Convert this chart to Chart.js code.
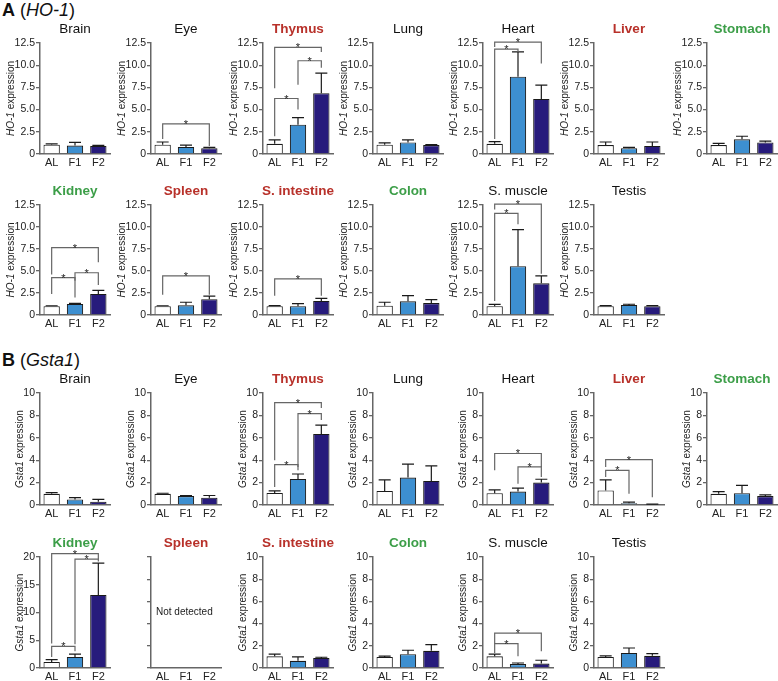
<!DOCTYPE html>
<html><head><meta charset="utf-8">
<script src="https://cdn.jsdelivr.net/npm/chart.js@4.4.1/dist/chart.umd.min.js"></script>
<style>
body{margin:0;background:#fff;width:778px;height:681px;position:relative;overflow:hidden;font-family:"Liberation Sans",Arial,sans-serif}
canvas{position:absolute}
.hdr{position:absolute;font-size:18px;color:#111;white-space:nowrap;line-height:20px}
</style></head><body>
<div class="hdr" style="left:2px;top:0px"><b>A</b> (<i>HO-1</i>)</div>
<div class="hdr" style="left:2px;top:350px"><b>B</b> (<i>Gsta1</i>)</div>
<script>
// ---------- DATA ----------
const groups = ['AL', 'F1', 'F2'];
const organs = ['Brain','Eye','Thymus','Lung','Heart','Liver','Stomach','Kidney','Spleen','S. intestine','Colon','S. muscle','Testis'];
const genes = ['HO-1', 'Gsta1'];

// HO-1 means and upper error (SD)
const ho1AL  = [1.05, 1.05, 1.15, 1.05, 1.15, 1.0, 1.0, 1.0, 1.0, 1.0, 1.05, 1.0, 1.0];
const ho1F1  = [0.95, 0.8, 3.3, 1.3, 8.7, 0.65, 1.65, 1.25, 1.1, 1.0, 1.55, 5.55, 1.15];
const ho1F2  = [0.9, 0.65, 6.85, 1.0, 6.2, 0.9, 1.3, 2.4, 1.8, 1.6, 1.35, 3.6, 1.0];
const ho1ErrAL = [0.08, 0.3, 0.45, 0.2, 0.25, 0.35, 0.2, 0.05, 0.05, 0.07, 0.4, 0.2, 0.07];
const ho1ErrF1 = [0.35, 0.2, 0.8, 0.3, 2.8, 0.1, 0.35, 0.07, 0.35, 0.3, 0.65, 4.15, 0.07];
const ho1ErrF2 = [0.08, 0.1, 2.25, 0.07, 1.55, 0.45, 0.15, 0.4, 0.35, 0.3, 0.4, 0.85, 0.07];
// brackets: [from, to, level, left leg end, right leg end]
const ho1Sig = [
  [], [[0,2,3.4,1.7,0.9]],
  [[0,1,6.25,2.0,5.0],[1,2,10.5,7.8,9.7],[0,2,12.0,7.4,11.5]],
  [], [[0,1,11.8,1.7,11.5],[0,2,12.6,12.05,10.2]], [], [],
  [[0,1,4.25,2.4,2.0],[1,2,4.8,3.9,3.4],[0,2,7.65,4.6,6.0]],
  [[0,2,4.45,2.3,2.3]], [[0,2,4.1,2.2,2.2]], [],
  [[0,1,11.55,1.6,10.3],[0,2,12.6,12.0,4.7]], []
];
const ho1Ticks = ['0','2.5','5.0','7.5','10.0','12.5'];

// Gsta1 means and upper error (SD); Spleen not detected
const gstAL  = [1.0, 1.0, 1.07, 1.25, 1.05, 1.3, 1.0, 1.1, null, 1.05, 1.0, 1.05, 1.0];
const gstF1  = [0.5, 0.8, 2.32, 2.45, 1.2, 0.15, 1.05, 2.0, null, 0.65, 1.25, 0.35, 1.35];
const gstF2  = [0.3, 0.65, 6.34, 2.15, 2.0, 0.05, 0.8, 13.15, null, 0.9, 1.55, 0.4, 1.1];
const gstErrAL = [0.1, 0.05, 0.2, 1.0, 0.3, 0.95, 0.2, 0.4, null, 0.2, 0.07, 0.2, 0.1];
const gstErrF1 = [0.15, 0.05, 0.45, 1.2, 0.3, 0.1, 0.7, 0.5, null, 0.35, 0.35, 0.1, 0.45];
const gstErrF2 = [0.2, 0.2, 0.8, 1.35, 0.3, 0.03, 0.1, 5.75, null, 0.07, 0.55, 0.3, 0.2];
const gstSig = [
  [], [],
  [[0,1,3.6,1.6,3.1],[1,2,8.15,3.4,7.6],[0,2,9.14,4.0,8.66]],
  [], [[1,2,3.4,1.9,2.5],[0,2,4.6,3.1,3.4]],
  [[0,1,3.1,2.5,1.0],[0,2,4.05,3.4,0.7]], [],
  [[0,1,3.9,2.0,3.0],[1,2,19.6,4.3,19.2],[0,2,20.6,4.4,19.6]],
  [], [], [], [[0,1,2.2,1.35,1.05],[0,2,3.15,2.2,1.5]], []
];
const gstTicks = ['0','2','4','6','8','10'];
const gstKidneyTicks = ['0','5','10','15','20'];
const notDetectedText = 'Not detected';

// ---------- STYLE / LAYOUT ----------
const FONT = '"Liberation Sans", Arial, Helvetica, sans-serif';
const barColors = ['#ffffff', '#3d8fd0', '#271b7c'];
const RED = '#b8312a', GREEN = '#3c9e48', BLACK = '#111';
const titleColor = [BLACK, BLACK, RED, BLACK, BLACK, RED, GREEN, GREEN, RED, RED, GREEN, BLACK, BLACK];
const colLeft = [0, 111, 223, 333, 443, 554, 667];
const rowTop = [18, 180, 368, 532];
const rowPlotH = [111, 110, 112, 111];
const rowXH = [16, 16, 16, 13];
const PAD_TOP = 25, YW = 40, PW = 70;

const extras = {
  id: 'extras',
  afterDatasetsDraw(chart, args, o) {
    const {ctx, scales: {x, y}} = chart;
    ctx.save();
    ctx.strokeStyle = '#1a1a1a'; ctx.lineWidth = 1.2;
    o.means.forEach((m, i) => {
      if (m == null) return;
      const px = x.getPixelForValue(i);
      const y0 = y.getPixelForValue(m), y1 = y.getPixelForValue(m + o.errs[i]);
      ctx.beginPath();
      ctx.moveTo(px, y0); ctx.lineTo(px, y1);
      ctx.moveTo(px - 6, y1); ctx.lineTo(px + 6, y1);
      ctx.stroke();
    });
    ctx.strokeStyle = '#666'; ctx.lineWidth = 1.2;
    ctx.fillStyle = '#222';
    ctx.font = '11px ' + FONT; ctx.textAlign = 'center'; ctx.textBaseline = 'alphabetic';
    o.sig.forEach(([i, j, lv, l1, l2]) => {
      const xi = x.getPixelForValue(i), xj = x.getPixelForValue(j);
      const yl = y.getPixelForValue(lv);
      ctx.beginPath();
      ctx.moveTo(xi, y.getPixelForValue(l1)); ctx.lineTo(xi, yl);
      ctx.lineTo(xj, yl); ctx.lineTo(xj, y.getPixelForValue(l2));
      ctx.stroke();
      ctx.fillText('*', (xi + xj) / 2, yl + 4);
    });
    ctx.restore();
  },
  afterDraw(chart, args, o) {
    const {ctx, chartArea: a} = chart;
    ctx.save();
    ctx.fillStyle = o.titleColor;
    ctx.font = (o.titleColor === BLACK ? '' : 'bold ') + '13.5px ' + FONT;
    ctx.textAlign = 'center'; ctx.textBaseline = 'middle';
    ctx.fillText(o.title, (a.left + a.right) / 2, 11.5);
    if (o.gene) {
      ctx.translate(o.ytx, (a.top + a.bottom) / 2);
      ctx.rotate(-Math.PI / 2);
      ctx.fillStyle = '#222';
      ctx.textAlign = 'left';
      const f1 = 'italic 10px ' + FONT, f2 = '10px ' + FONT;
      ctx.font = f1; const w1 = ctx.measureText(o.gene).width;
      ctx.font = f2; const w2 = ctx.measureText(' expression').width;
      const s = -(w1 + w2) / 2;
      ctx.font = f1; ctx.fillText(o.gene, s, 0);
      ctx.font = f2; ctx.fillText(' expression', s + w1, 0);
    }
    ctx.restore();
    if (o.note) {
      ctx.save();
      ctx.fillStyle = '#222'; ctx.font = '10px ' + FONT;
      ctx.textAlign = 'left'; ctx.textBaseline = 'middle';
      ctx.fillText(o.note, a.left + 5, (a.top + a.bottom) / 2);
      ctx.restore();
    }
  }
};

function panel(row, col, cfg) {
  const c = document.createElement('canvas');
  const h = PAD_TOP + rowPlotH[row] + rowXH[row];
  c.width = YW + PW + 1; c.height = h;
  c.style.left = colLeft[col] + 'px'; c.style.top = rowTop[row] + 'px';
  c.style.width = c.width + 'px'; c.style.height = h + 'px';
  document.body.appendChild(c);
  new Chart(c, {
    type: 'bar',
    data: {
      labels: groups,
      datasets: [{
        data: cfg.means.map(v => v == null ? null : v),
        backgroundColor: barColors,
        borderColor: '#1a1a1a', borderWidth: 1.1,
        barPercentage: 0.7, categoryPercentage: 1.0
      }]
    },
    options: {
      responsive: false, animation: false, devicePixelRatio: 1,
      layout: {padding: {top: PAD_TOP, right: 1, left: 0, bottom: 0}},
      events: [],
      plugins: {
        legend: {display: false}, tooltip: {enabled: false}, title: {display: false},
        extras: cfg
      },
      scales: {
        x: {
          grid: {display: true, drawOnChartArea: false, drawTicks: false},
          border: {display: true, color: '#666', width: 1.5},
          ticks: {color: '#222', font: {size: 11, family: FONT}, padding: 2, maxRotation: 0},
          afterFit(s) { s.height = rowXH[row]; }
        },
        y: {
          min: 0, max: cfg.ymax,
          grid: {drawOnChartArea: false, tickLength: 4, color: '#666', lineWidth: 1.3},
          border: {display: true, color: '#666', width: 1.5},
          ticks: {stepSize: cfg.step, autoSkip: false, color: '#222', font: {size: 10.5, family: FONT}, padding: 1,
                  callback: (v, i) => cfg.tickLabels[i]},
          afterFit(s) { s.width = YW; }
        }
      }
    },
    plugins: [extras]
  });
}

organs.forEach((name, k) => {
  const row = k < 7 ? 0 : 1, col = k < 7 ? k : k - 7;
  panel(row, col, {
    title: name, titleColor: titleColor[k], gene: genes[0], ytx: 11,
    means: [ho1AL[k], ho1F1[k], ho1F2[k]],
    errs: [ho1ErrAL[k], ho1ErrF1[k], ho1ErrF2[k]],
    sig: ho1Sig[k], ymax: 12.5, step: 2.5, tickLabels: ho1Ticks
  });
});
organs.forEach((name, k) => {
  const row = k < 7 ? 2 : 3, col = k < 7 ? k : k - 7;
  const kidney = name === 'Kidney', spleen = name === 'Spleen';
  panel(row, col, {
    title: name, titleColor: titleColor[k], gene: spleen ? null : genes[1], ytx: 20,
    means: [gstAL[k], gstF1[k], gstF2[k]],
    errs: [gstErrAL[k], gstErrF1[k], gstErrF2[k]],
    sig: gstSig[k],
    ymax: kidney ? 20 : (spleen ? 5 : 10), step: kidney ? 5 : (spleen ? 1 : 2),
    tickLabels: kidney ? gstKidneyTicks : (spleen ? ['', '', '', '', '', ''] : gstTicks),
    note: spleen ? notDetectedText : null
  });
});
</script>
</body></html>
